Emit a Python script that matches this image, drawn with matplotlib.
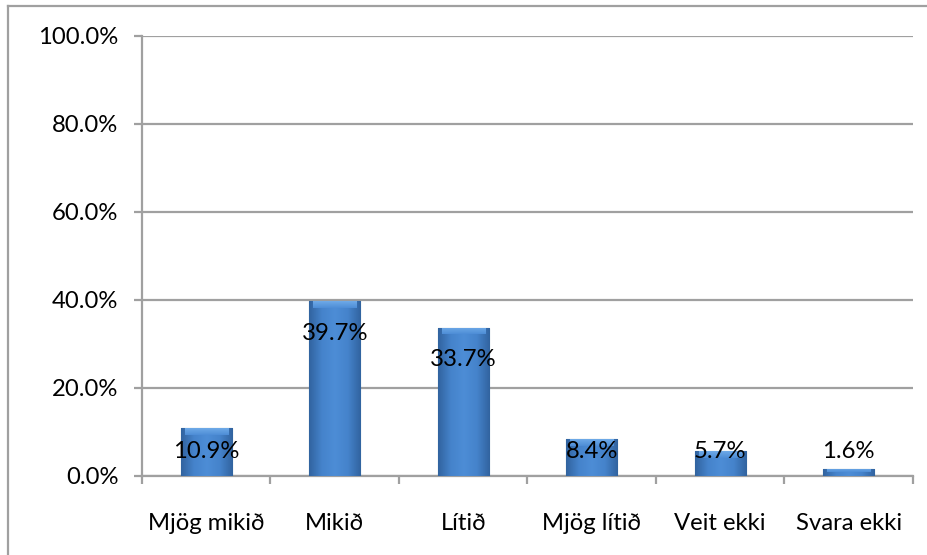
import numpy as np
import matplotlib
matplotlib.use("Agg")
import matplotlib.pyplot as plt
from matplotlib.colors import LinearSegmentedColormap
from matplotlib.lines import Line2D

categories = ["Mjög mikið", "Mikið", "Lítið", "Mjög lítið", "Veit ekki", "Svara ekki"]
values = [10.9, 39.7, 33.7, 8.4, 5.7, 1.6]
yticks = [0, 20, 40, 60, 80, 100]

plt.rcParams['font.family'] = ['Lato', 'DejaVu Sans']
W, H = 928, 555
fig = plt.figure(figsize=(W / 100, H / 100), dpi=100)
ax = fig.add_axes([142 / W, 1 - 476 / H, (913 - 142) / W, (476 - 36) / H])

grid_c = "#A0A0A0"
fs = 17.2
x = np.arange(len(categories))
bars = ax.bar(x, values, width=0.40, color="#4A86CF", edgecolor="#2E5C8E", linewidth=0.8, zorder=3)

cmap = LinearSegmentedColormap.from_list("bev", ["#31639F", "#4583CB", "#4D8DD6", "#4583CB", "#31639F"])
grad = np.linspace(0, 1, 256).reshape(1, -1)
for b in bars:
    x0, y0 = b.get_x(), b.get_y()
    w, h = b.get_width(), b.get_height()
    im = ax.imshow(grad, cmap=cmap, extent=[x0, x0 + w, y0, y0 + h], aspect="auto", zorder=3.5)
    im.set_clip_path(b)
    top = min(1.5, h * 0.5)
    im2 = ax.imshow(np.linspace(0, 1, 64).reshape(-1, 1),
                    cmap=LinearSegmentedColormap.from_list("tb", ["#6FAAE8", "#4D8DD6"]),
                    extent=[x0 + w * 0.08, x0 + w * 0.92, y0 + h - top, y0 + h], aspect="auto", zorder=3.6)
    im2.set_clip_path(b)

ax.set_xlim(-0.5, len(categories) - 0.5)
ax.set_ylim(0, 100)
ax.set_yticks(yticks)
ax.set_yticklabels([f"{t:.1f}%" for t in yticks], fontsize=fs, color="#000000")
ax.yaxis.grid(True, color=grid_c, linewidth=1.6, zorder=0)
ax.set_xticks(x)
ax.set_xticklabels(categories, fontsize=fs)
ax.set_xticks(np.arange(-0.5, len(categories)), minor=True)
ax.tick_params(axis="x", which="major", length=0, pad=27)
ax.tick_params(axis="x", which="minor", length=6, width=1.6, color=grid_c)
ax.tick_params(axis="y", length=6, width=1.6, color=grid_c, pad=11)
for s in ["top", "right"]:
    ax.spines[s].set_visible(False)
for s in ["left", "bottom"]:
    ax.spines[s].set_color(grid_c)
    ax.spines[s].set_linewidth(1.6)
ax.set_axisbelow(True)

for xi, v in zip(x, values):
    ax.text(xi, max(v - 7.2, 5.6), f"{v:.1f}%", ha="center", va="center", fontsize=fs, zorder=5)

fig.add_artist(Line2D([8 / W, 8 / W], [0, 1 - 6 / H], transform=fig.transFigure, color=grid_c, linewidth=1.6))
fig.add_artist(Line2D([8 / W, 1], [1 - 6 / H, 1 - 6 / H], transform=fig.transFigure, color=grid_c, linewidth=1.6))

fig.savefig("out.png", dpi=100)
